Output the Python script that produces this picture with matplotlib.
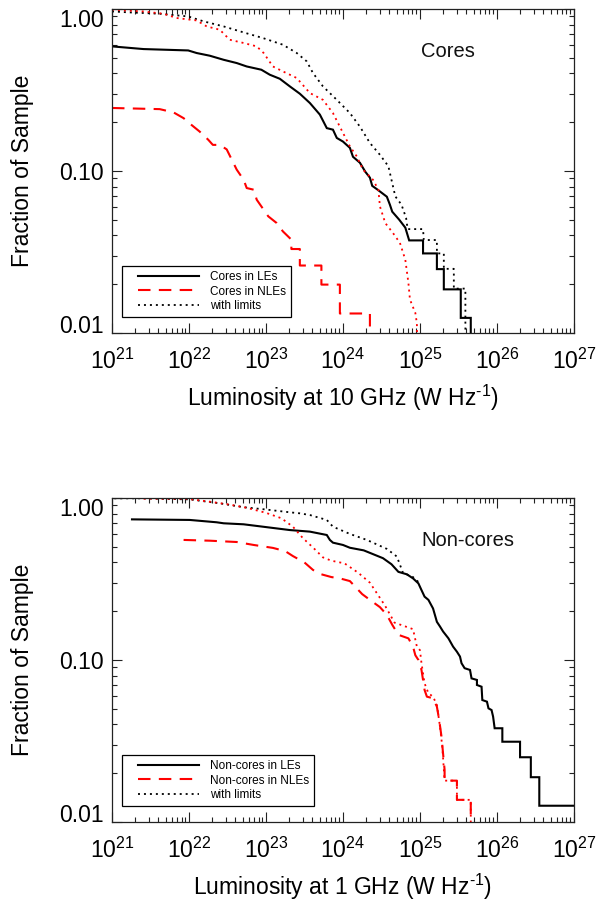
import numpy as np
import matplotlib
matplotlib.use("Agg")
import matplotlib.pyplot as plt
from matplotlib.ticker import FixedLocator, LogLocator, NullFormatter, FuncFormatter
from matplotlib.legend_handler import HandlerLine2D

plt.rcParams['font.family'] = ['Liberation Sans', 'DejaVu Sans']
plt.rcParams['mathtext.fontset'] = 'custom'
plt.rcParams['mathtext.rm'] = 'Liberation Sans'
plt.rcParams['mathtext.it'] = 'Liberation Sans:italic'
plt.rcParams['mathtext.bf'] = 'Liberation Sans:bold'

# ---------------- data (log10 luminosity, fraction of sample) ----------------
# Top panel: cores, 10 GHz
cores_le_logL = [21.0, 21.41, 21.99, 22.10, 22.27, 22.45, 22.62, 22.75, 22.94, 23.05,
                 23.18, 23.31, 23.44, 23.57, 23.70, 23.79, 23.87, 23.92, 24.00, 24.09,
                 24.13, 24.22, 24.29, 24.35, 24.38, 24.45, 24.57, 24.61, 24.64, 24.73,
                 24.81, 24.86, 25.04, 25.04, 25.22, 25.22, 25.31, 25.31, 25.53, 25.53,
                 25.66, 25.66]
cores_le_frac = [0.588, 0.566, 0.555, 0.535, 0.515, 0.486, 0.464, 0.442, 0.422, 0.393,
                 0.371, 0.333, 0.300, 0.263, 0.223, 0.184, 0.180, 0.160, 0.152, 0.139,
                 0.1225, 0.1125, 0.099, 0.091, 0.081, 0.0767, 0.0694, 0.0619, 0.0561, 0.0501,
                 0.0447, 0.0373, 0.0373, 0.0310, 0.0310, 0.0248, 0.0248, 0.0186, 0.0186, 0.0124,
                 0.0124, 0.0062]

cores_le_lim_logL = [21.0, 21.23, 21.62, 21.99, 22.19, 22.45, 22.71, 22.96, 23.22, 23.40,
                     23.53, 23.61, 23.74, 23.92, 24.09, 24.22, 24.35, 24.48, 24.59, 24.63,
                     24.68, 24.76, 24.82, 24.84, 25.04, 25.05, 25.22, 25.22, 25.31, 25.31,
                     25.44, 25.44, 25.59, 25.59]
cores_le_lim_frac = [0.966, 0.953, 0.935, 0.90, 0.839, 0.781, 0.717, 0.662, 0.602, 0.535,
                     0.475, 0.403, 0.333, 0.275, 0.228, 0.188, 0.149, 0.126, 0.107, 0.0883,
                     0.0697, 0.062, 0.0513, 0.0438, 0.0438, 0.0375, 0.0375, 0.031, 0.031, 0.0249,
                     0.0249, 0.0188, 0.0188, 0.006]

cores_nle_logL = [21.0, 21.62, 21.80, 21.93, 22.03, 22.14, 22.25, 22.31, 22.40, 22.49,
                  22.62, 22.71, 22.75, 22.84, 22.88, 22.97, 23.03, 23.14, 23.22, 23.33,
                  23.33, 23.44, 23.44, 23.72, 23.72, 23.96, 23.96, 24.35, 24.35]
cores_nle_frac = [0.245, 0.241, 0.230, 0.212, 0.193, 0.175, 0.156, 0.145, 0.145, 0.136,
                  0.102, 0.0883, 0.0785, 0.0767, 0.0665, 0.0577, 0.0525, 0.0477, 0.0424, 0.0377,
                  0.033, 0.033, 0.0261, 0.0261, 0.0199, 0.0199, 0.0132, 0.0132, 0.0066]

cores_nle_lim_logL = [21.0, 21.41, 21.67, 21.84, 22.10, 22.23, 22.40, 22.53, 22.71, 22.88,
                      22.97, 23.09, 23.22, 23.40, 23.57, 23.74, 23.87, 24.00, 24.09, 24.18,
                      24.26, 24.39, 24.46, 24.48, 24.55, 24.65, 24.74, 24.81, 24.85, 24.87,
                      24.94, 24.96, 24.97]
cores_nle_lim_frac = [0.99, 0.966, 0.935, 0.88, 0.85, 0.781, 0.745, 0.646, 0.617, 0.588,
                      0.535, 0.442, 0.412, 0.375, 0.303, 0.275, 0.228, 0.172, 0.142, 0.123,
                      0.102, 0.0883, 0.0767, 0.0605, 0.0477, 0.0414, 0.036, 0.0283, 0.0204, 0.0161,
                      0.0133, 0.0115, 0.006]

# Bottom panel: non-cores, 1 GHz
ncores_le_logL = [21.26, 22.01, 22.36, 22.45, 22.71, 22.96, 23.31, 23.57, 23.79, 23.83,
                  23.87, 24.00, 24.09, 24.27, 24.52, 24.63, 24.72, 24.83, 24.91, 24.98,
                  25.02, 25.06, 25.11, 25.17, 25.22, 25.26, 25.30, 25.37, 25.43, 25.48,
                  25.52, 25.54, 25.58, 25.65, 25.67, 25.74, 25.74, 25.80, 25.81, 25.87,
                  25.89, 25.93, 25.95, 25.97, 26.07, 26.07, 26.30, 26.30, 26.44, 26.44,
                  26.55, 26.55, 27.0]
ncores_le_frac = [0.738, 0.732, 0.708, 0.698, 0.688, 0.665, 0.634, 0.62, 0.591, 0.551,
                  0.53, 0.513, 0.493, 0.475, 0.425, 0.39, 0.35, 0.338, 0.319, 0.297,
                  0.27, 0.246, 0.235, 0.208, 0.172, 0.161, 0.15, 0.136, 0.121, 0.1125,
                  0.105, 0.0955, 0.089, 0.0868, 0.077, 0.0753, 0.0701, 0.0684, 0.0566, 0.0553,
                  0.0503, 0.0491, 0.0447, 0.0379, 0.0379, 0.0313, 0.0313, 0.0251, 0.0251, 0.0189,
                  0.0189, 0.0126, 0.0126]

ncores_le_lim_logL = [21.03, 21.41, 22.01, 22.40, 22.71, 22.99, 23.31, 23.44, 23.57, 23.79,
                      23.87, 24.09, 24.31, 24.57, 24.70, 24.78, 24.91, 25.0]
ncores_le_lim_frac = [0.995, 0.995, 0.98, 0.927, 0.877, 0.85, 0.816, 0.804, 0.785, 0.732,
                      0.665, 0.6, 0.551, 0.485, 0.435, 0.345, 0.325, 0.297]

ncores_nle_logL = [21.93, 22.27, 22.62, 22.84, 23.09, 23.25, 23.35, 23.5, 23.61, 23.70,
                   23.85, 23.96, 24.09, 24.25, 24.35, 24.48, 24.57, 24.64, 24.72, 24.85,
                   24.91, 24.94, 24.98, 25.02, 25.04, 25.06, 25.09, 25.17, 25.22, 25.25,
                   25.28, 25.30, 25.32, 25.32, 25.48, 25.48, 25.66, 25.66]
ncores_nle_frac = [0.551, 0.545, 0.535, 0.513, 0.492, 0.47, 0.438, 0.40, 0.36, 0.34,
                   0.325, 0.319, 0.307, 0.255, 0.235, 0.212, 0.19, 0.165, 0.143, 0.136,
                   0.121, 0.107, 0.1, 0.0868, 0.0753, 0.0653, 0.0594, 0.058, 0.0515, 0.0426,
                   0.0336, 0.0265, 0.021, 0.018, 0.018, 0.0137, 0.0137, 0.006]

ncores_nle_lim_logL = [21.41, 21.97, 22.27, 22.53, 22.75, 23.0, 23.2, 23.35, 23.48, 23.62,
                       23.74, 23.85, 24.02, 24.2, 24.35, 24.46, 24.55, 24.67, 24.78, 24.91,
                       24.96, 25.0, 25.02, 25.06, 25.11, 25.17, 25.22, 25.26, 25.29, 25.32,
                       25.48, 25.48, 25.66, 25.66]
ncores_nle_lim_frac = [0.99, 0.99, 0.949, 0.91, 0.87, 0.81, 0.75, 0.665, 0.565, 0.49,
                       0.43, 0.41, 0.395, 0.345, 0.3, 0.25, 0.215, 0.17, 0.163, 0.155,
                       0.121, 0.115, 0.0954, 0.0718, 0.0623, 0.0594, 0.0527, 0.0388, 0.0292, 0.018,
                       0.018, 0.0137, 0.0137, 0.006]

x_tick_exps = [21, 22, 23, 24, 25, 26, 27]
y_ticks = [0.01, 0.1, 1.0]
y_tick_labels = ['0.01', '0.10', '1.00']

SUP = r'$^{\mathregular{' + '\u2010' + r'1}}$'
panels = [
    dict(label='Cores', xlabel='Luminosity at 10 GHz (W Hz' + SUP + ')',
         le=(cores_le_logL, cores_le_frac), nle=(cores_nle_logL, cores_nle_frac),
         le_lim=(cores_le_lim_logL, cores_le_lim_frac), nle_lim=(cores_nle_lim_logL, cores_nle_lim_frac),
         leg=['Cores in LEs', 'Cores in NLEs', 'with limits']),
    dict(label='Non-cores', xlabel='Luminosity at 1 GHz (W Hz' + SUP + ')',
         le=(ncores_le_logL, ncores_le_frac), nle=(ncores_nle_logL, ncores_nle_frac),
         le_lim=(ncores_le_lim_logL, ncores_le_lim_frac), nle_lim=(ncores_nle_lim_logL, ncores_nle_lim_frac),
         leg=['Non-cores in LEs', 'Non-cores in NLEs', 'with limits']),
]


class ShiftedLine(HandlerLine2D):
    def __init__(self, shift, **kw):
        super().__init__(**kw)
        self.shift = shift

    def create_artists(self, legend, orig_handle, xdescent, ydescent, width, height, fontsize, trans):
        s = self.shift * fontsize
        return super().create_artists(legend, orig_handle, xdescent - s, ydescent,
                                      width - s, height, fontsize, trans)


fig = plt.figure(figsize=(6.02, 9.02), dpi=100)
axes = [fig.add_axes([0.1860, 0.6308, 0.7674, 0.3592]),
        fig.add_axes([0.1860, 0.0887, 0.7674, 0.3592])]

RED = '#ff0000'
for ax, p in zip(axes, panels):
    l_le, = ax.plot(10 ** np.array(p['le'][0]), p['le'][1], color='black', lw=1.5,
                    solid_joinstyle='miter')
    l_nle, = ax.plot(10 ** np.array(p['nle'][0]), p['nle'][1], color=RED, lw=1.5,
                     dashes=(6, 4))
    l_lim, = ax.plot(10 ** np.array(p['le_lim'][0]), p['le_lim'][1], color='black', lw=1.3,
                     dashes=(1.1, 2.2))
    ax.plot(10 ** np.array(p['nle_lim'][0]), p['nle_lim'][1], color=RED, lw=1.3,
            dashes=(1.1, 2.2))

    ax.set_xscale('log')
    ax.set_yscale('log')
    ax.set_xlim(1e21, 1e27)
    ax.set_ylim(0.01, 1.0)

    ax.xaxis.set_major_locator(FixedLocator([10.0 ** e for e in x_tick_exps]))
    ax.xaxis.set_major_formatter(FuncFormatter(
        lambda v, pos: r'$\mathregular{10^{%d}}$' % int(round(np.log10(v)))))
    ax.xaxis.set_minor_locator(LogLocator(base=10, subs=np.arange(2, 10), numticks=100))
    ax.xaxis.set_minor_formatter(NullFormatter())
    ax.yaxis.set_major_locator(FixedLocator(y_ticks))
    ax.set_yticklabels(y_tick_labels)
    ax.yaxis.set_minor_locator(LogLocator(base=10, subs=np.arange(2, 10), numticks=100))
    ax.yaxis.set_minor_formatter(NullFormatter())

    ax.tick_params(which='both', direction='in', top=True, right=True, width=0.8,
                   color='#222222')
    ax.tick_params(which='major', length=7.5)
    ax.tick_params(which='minor', length=3.8)
    ax.tick_params(axis='x', which='major', labelsize=16.5, pad=11)
    ax.tick_params(axis='y', which='major', labelsize=16.5, pad=6)
    for sp in ax.spines.values():
        sp.set_linewidth(0.9)
        sp.set_color('#222222')

    yt = ax.yaxis.get_major_ticks()
    yt[0].label1.set_va('baseline')
    yt[2].label1.set_va('top')

    ax.set_ylabel('Fraction of Sample', fontsize=16.5)
    ax.yaxis.set_label_coords(-0.168, 0.5)
    ax.set_xlabel(p['xlabel'], fontsize=16.5)
    ax.xaxis.set_label_coords(0.5, -0.155)

    ax.text(0.669, 0.868, p['label'], transform=ax.transAxes, fontsize=14.5,
            va='center', ha='left', color='#111111')

    h = ShiftedLine(0.93)
    leg = ax.legend([l_le, l_nle, l_lim], p['leg'], loc='lower left',
                    bbox_to_anchor=(0.0216, 0.049), borderaxespad=0, fontsize=8.5,
                    frameon=True, fancybox=False, edgecolor='black', framealpha=1,
                    borderpad=0.44, labelspacing=0.2, handlelength=6.1,
                    handletextpad=0.93,
                    handler_map={l_le: h, l_nle: h, l_lim: h})
    leg.get_frame().set_linewidth(0.9)

fig.savefig('out.png', dpi=100)
